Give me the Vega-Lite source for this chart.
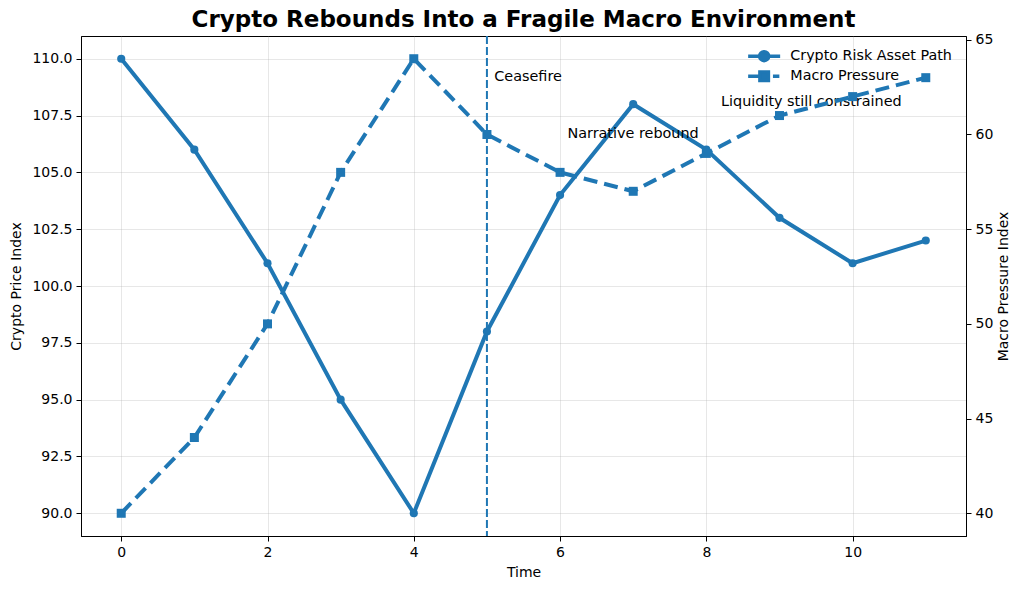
{
  "$schema": "https://vega.github.io/schema/vega-lite/v6.json",
  "width": 885,
  "height": 500,
  "autosize": "none",
  "padding": {"left": 81, "top": 36, "right": 58, "bottom": 54},
  "background": "white",
  "config": {
    "font": "DejaVu Sans",
    "view": {"stroke": "#000", "strokeWidth": 1},
    "axis": {
      "labelFont": "DejaVu Sans", "labelFontSize": 14, "labelColor": "#000",
      "titleFont": "DejaVu Sans", "titleFontSize": 14, "titleFontWeight": "normal", "titleColor": "#000",
      "domainColor": "#000", "tickColor": "#000", "tickSize": 5, "labelPadding": 4,
      "gridColor": "#b0b0b0", "gridOpacity": 0.3
    }
  },
  "title": {"text": "Crypto Rebounds Into a Fragile Macro Environment", "fontSize": 23, "fontWeight": "bold", "color": "#000", "offset": 1, "anchor": "middle", "font": "DejaVu Sans"},
  "data": {"values": [
    {"t": 0, "crypto": 110, "macro": 40},
    {"t": 1, "crypto": 106, "macro": 44},
    {"t": 2, "crypto": 101, "macro": 50},
    {"t": 3, "crypto": 95, "macro": 58},
    {"t": 4, "crypto": 90, "macro": 64},
    {"t": 5, "crypto": 98, "macro": 60},
    {"t": 6, "crypto": 104, "macro": 58},
    {"t": 7, "crypto": 108, "macro": 57},
    {"t": 8, "crypto": 106, "macro": 59},
    {"t": 9, "crypto": 103, "macro": 61},
    {"t": 10, "crypto": 101, "macro": 62},
    {"t": 11, "crypto": 102, "macro": 63}
  ]},
  "layer": [
    {
      "layer": [
        {
          "mark": {"type": "line", "strokeWidth": 4, "point": {"filled": true, "size": 66}},
          "encoding": {
            "x": {"field": "t", "type": "quantitative", "scale": {"domain": [-0.55, 11.55], "nice": false, "zero": false}, "axis": {"values": [0, 2, 4, 6, 8, 10], "format": "d", "title": "Time", "grid": true, "titlePadding": 6}},
            "y": {"field": "crypto", "type": "quantitative", "scale": {"domain": [89, 111], "nice": false, "zero": false}, "axis": {"values": [90, 92.5, 95, 97.5, 100, 102.5, 105, 107.5, 110], "format": ".1f", "title": "Crypto Price Index", "grid": true, "titlePadding": 8}},
            "color": {
              "datum": "Crypto Risk Asset Path",
              "scale": {"domain": ["Crypto Risk Asset Path", "Macro Pressure"], "range": ["#1f77b4", "#1f77b4"]},
              "legend": {
                "orient": "none", "legendX": 676, "legendY": 13, "title": null,
                "labelFontSize": 14.3, "labelColor": "#000", "labelFont": "DejaVu Sans", "labelOffset": 19, "labelLimit": 300,
                "symbolSize": 100, "rowPadding": -4,
                "encode": {"symbols": {"update": {
                  "shape": {"signal": "datum.value === 'Macro Pressure' ? 'M-3.2,0L-0.64,0M1.76,0L3.04,0M-0.85,-0.85H0.85V0.85H-0.85Z' : 'M-3.2,0L3.2,0M0.9,0A0.9,0.9 0 1 1 -0.9,0A0.9,0.9 0 1 1 0.9,0Z'"},
                  "fill": {"value": "#1f77b4"},
                  "stroke": {"value": "#1f77b4"},
                  "strokeWidth": {"value": 3.5},
                  "strokeDash": {"value": []},
                  "opacity": {"value": 1}
                }}}
              }
            }
          }
        },
        {
          "data": {"values": [{"t": 5}]},
          "mark": {"type": "rule", "strokeDash": [8, 3], "strokeWidth": 2, "color": "#1f77b4"},
          "encoding": {"x": {"field": "t", "type": "quantitative"}}
        },
        {
          "data": {"values": [
            {"t": 5.1, "crypto": 109, "label": "Ceasefire"},
            {"t": 6.1, "crypto": 106.5, "label": "Narrative rebound"},
            {"t": 8.2, "crypto": 107.9, "label": "Liquidity still constrained"}
          ]},
          "mark": {"type": "text", "align": "left", "baseline": "alphabetic", "fontSize": 14.4, "color": "#000", "font": "DejaVu Sans"},
          "encoding": {
            "x": {"field": "t", "type": "quantitative"},
            "y": {"field": "crypto", "type": "quantitative"},
            "text": {"field": "label"}
          }
        }
      ]
    },
    {
      "mark": {"type": "line", "strokeWidth": 4, "strokeDash": [14, 7], "point": {"filled": true, "size": 81, "shape": "square"}},
      "encoding": {
        "x": {"field": "t", "type": "quantitative"},
        "y": {"field": "macro", "type": "quantitative", "scale": {"domain": [38.8, 65.2], "nice": false, "zero": false}, "axis": {"orient": "right", "values": [40, 45, 50, 55, 60, 65], "title": "Macro Pressure Index", "titleAngle": 270, "grid": false, "titlePadding": 18}},
        "color": {"datum": "Macro Pressure"}
      }
    }
  ],
  "resolve": {"scale": {"y": "independent"}}
}
